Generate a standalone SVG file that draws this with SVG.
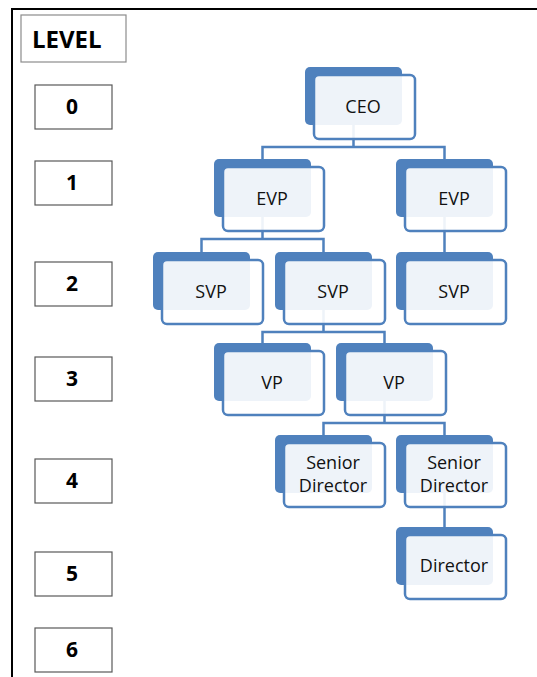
<svg xmlns="http://www.w3.org/2000/svg" width="537" height="677" viewBox="0 0 537 677">
  <style>
    .lvl-box { fill: #ffffff; stroke: #595959; stroke-width: 1.2; }
    .lvl-head { fill: #ffffff; stroke: #8c8c8c; stroke-width: 1.2; }
    .lvl-txt { font-family: "Open Sans", "Liberation Sans", sans-serif; font-weight: 700; font-size: 21px; fill: #000000; text-anchor: middle; }
    .head-txt { font-family: "Open Sans", "Liberation Sans", sans-serif; font-weight: 700; font-size: 24px; fill: #000000; }
    .back { fill: #4f81bd; }
    .front { fill: #ffffff; fill-opacity: 0.9; stroke: #4f81bd; stroke-width: 2.5; }
    .label { font-family: "Open Sans", "Liberation Sans", sans-serif; font-size: 18px; fill: #111111; text-anchor: middle; }
    .conn { fill: none; stroke: #4f81bd; stroke-width: 2.5; }
  </style>
  <defs>
    <!-- one org-chart node: solid tab behind, pale card in front -->
    <g id="card">
      <rect class="back" x="0" y="0" width="97" height="58" rx="5"/>
      <rect class="front" x="9" y="8" width="101" height="64" rx="5"/>
    </g>
  </defs>

  <rect x="0" y="0" width="537" height="677" fill="#ffffff"/>

  <!-- frame -->
  <path d="M12 677 V9 H537" fill="none" stroke="#000000" stroke-width="2"/>

  <!-- level column -->
  <g id="level-header">
    <rect class="lvl-head" x="21" y="15" width="105" height="47"/>
    <text class="head-txt" x="32" y="48">LEVEL</text>
  </g>
  <g id="level-0"><rect class="lvl-box" x="35" y="85" width="77" height="44"/><text class="lvl-txt" x="72" y="114">0</text></g>
  <g id="level-1"><rect class="lvl-box" x="35" y="161" width="77" height="44"/><text class="lvl-txt" x="72" y="190">1</text></g>
  <g id="level-2"><rect class="lvl-box" x="35" y="262" width="77" height="44"/><text class="lvl-txt" x="72" y="291">2</text></g>
  <g id="level-3"><rect class="lvl-box" x="35" y="357" width="77" height="44"/><text class="lvl-txt" x="72" y="386">3</text></g>
  <g id="level-4"><rect class="lvl-box" x="35" y="459" width="77" height="44"/><text class="lvl-txt" x="72" y="488">4</text></g>
  <g id="level-5"><rect class="lvl-box" x="35" y="552" width="77" height="44"/><text class="lvl-txt" x="72" y="581">5</text></g>
  <g id="level-6"><rect class="lvl-box" x="35" y="628" width="77" height="44"/><text class="lvl-txt" x="72" y="657">6</text></g>

  <!-- reporting lines -->
  <g id="connectors">
    <path class="conn" d="M262.5 159 V147 H444.5 V159 M353.5 125 V147"/>
    <path class="conn" d="M201.5 252 V239 H323.5 V252 M262.5 217 V239"/>
    <path class="conn" d="M444.5 217 V252"/>
    <path class="conn" d="M262.5 343 V332 H384.5 V343 M323.5 310 V332"/>
    <path class="conn" d="M323.5 435 V423 H444.5 V435 M384.5 401 V423"/>
    <path class="conn" d="M444.5 493 V527"/>
  </g>

  <!-- nodes -->
  <g id="ceo" transform="translate(305 67)"><use href="#card"/><text class="label" x="58" y="46">CEO</text></g>
  <g id="evp-left" transform="translate(214 159)"><use href="#card"/><text class="label" x="58" y="46">EVP</text></g>
  <g id="evp-right" transform="translate(396 159)"><use href="#card"/><text class="label" x="58" y="46">EVP</text></g>
  <g id="svp-left" transform="translate(153 252)"><use href="#card"/><text class="label" x="58" y="46">SVP</text></g>
  <g id="svp-mid" transform="translate(275 252)"><use href="#card"/><text class="label" x="58" y="46">SVP</text></g>
  <g id="svp-right" transform="translate(396 252)"><use href="#card"/><text class="label" x="58" y="46">SVP</text></g>
  <g id="vp-left" transform="translate(214 343)"><use href="#card"/><text class="label" x="58" y="46">VP</text></g>
  <g id="vp-right" transform="translate(336 343)"><use href="#card"/><text class="label" x="58" y="46">VP</text></g>
  <g id="sd-left" transform="translate(275 435)"><use href="#card"/><text class="label" x="58" y="34">Senior</text><text class="label" x="58" y="57">Director</text></g>
  <g id="sd-right" transform="translate(396 435)"><use href="#card"/><text class="label" x="58" y="34">Senior</text><text class="label" x="58" y="57">Director</text></g>
  <g id="director" transform="translate(396 527)"><use href="#card"/><text class="label" x="58" y="45">Director</text></g>
</svg>
